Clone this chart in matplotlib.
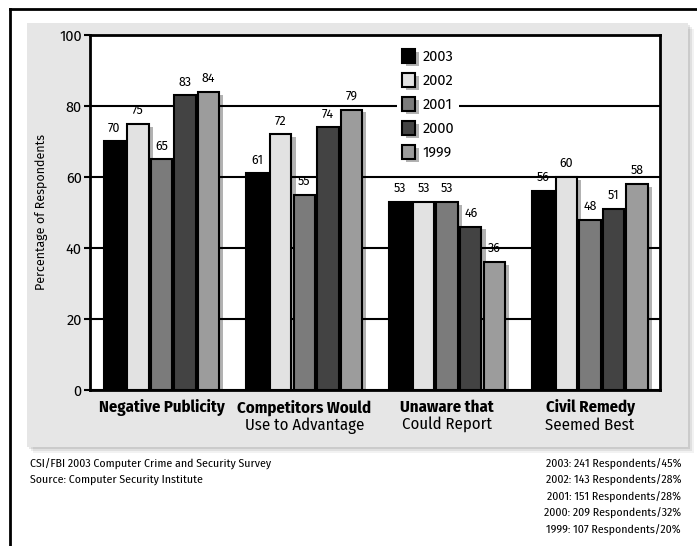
import numpy as np
import matplotlib
matplotlib.use("Agg")
import matplotlib.pyplot as plt
import matplotlib.patheffects as pe
from matplotlib.patches import Rectangle
from matplotlib.lines import Line2D

# data
categories_bold = ["Negative Publicity", "Competitors Would", "Unaware that", "Civil Remedy"]
categories_sub = ["", "Use to Advantage", "Could Report", "Seemed Best"]
years = ["2003", "2002", "2001", "2000", "1999"]
v2003 = [70, 61, 53, 56]
v2002 = [75, 72, 53, 60]
v2001 = [65, 55, 53, 48]
v2000 = [83, 74, 46, 51]
v1999 = [84, 79, 36, 58]
series = [v2003, v2002, v2001, v2000, v1999]
colors = ["#000000", "#e2e2e2", "#7b7b7b", "#434343", "#9c9c9c"]

footer_left = ["CSI/FBI 2003 Computer Crime and Security Survey",
               "Source: Computer Security Institute"]
footer_right = ["2003: 241 Respondents/45%",
                "2002: 143 Respondents/28%",
                "2001: 151 Respondents/28%",
                "2000: 209 Respondents/32%",
                "1999: 107 Respondents/20%"]

NARROW = ["Fira Sans Condensed", "PT Sans Narrow", "DejaVu Sans"]
REG = ["Fira Sans", "DejaVu Sans"]

W, H = 697, 546
fig = plt.figure(figsize=(W / 100, H / 100), dpi=100)
fig.patch.set_facecolor("white")

# outer frame lines (top and left)
fig.add_artist(Line2D([10 / W, 1.0], [1 - 9 / H, 1 - 9 / H], color="black", lw=2))
fig.add_artist(Line2D([10 / W, 10 / W], [0.0, 1 - 9 / H], color="black", lw=2))

# gray panel with soft shadow
px0, px1, py0, py1 = 27, 688, 23, 447
for k, a in [(6, 0.05), (4, 0.07), (2, 0.09)]:
    fig.add_artist(Rectangle(((px0 + k) / W, 1 - (py1 + k) / H), (px1 - px0) / W, (py1 - py0) / H,
                             transform=fig.transFigure, facecolor="black", alpha=a, edgecolor="none"))
fig.add_artist(Rectangle((px0 / W, 1 - py1 / H), (px1 - px0) / W, (py1 - py0) / H,
                         transform=fig.transFigure, facecolor="#e6e6e6", edgecolor="none"))

# axes
ax_l, ax_r, ax_t, ax_b = 90, 660, 35, 390
ax = fig.add_axes([ax_l / W, 1 - ax_b / H, (ax_r - ax_l) / W, (ax_b - ax_t) / H])
ax.set_facecolor("white")
ax.set_zorder(2)

x = np.arange(len(categories_bold))
pitch = 0.165
width = 0.15
shadow = [pe.SimplePatchShadow(offset=(3, -2), shadow_rgbFace="black", alpha=0.3), pe.Normal()]
for i, (vals, col, yr) in enumerate(zip(series, colors, years)):
    pos = x + (i - 2) * pitch
    bars = ax.bar(pos, vals, width=width, color=col, edgecolor="black", linewidth=1.5,
                  label=yr, zorder=3)
    for b in bars:
        b.set_path_effects(shadow)
    for p, v in zip(pos, vals):
        ax.text(p, v + 2, str(v), ha="center", va="bottom", fontsize=9, family=REG, zorder=4)

ax.set_xlim(-0.5, 3.49)
ax.set_ylim(0, 100)
ax.set_yticks([0, 20, 40, 60, 80, 100])
ax.tick_params(axis="y", direction="out", length=4, width=1.5, labelsize=10.5, pad=2)
for lab in ax.get_yticklabels():
    lab.set_family(REG)
ax.set_xticks([])
ax.yaxis.grid(True, color="black", linewidth=1.5)
ax.set_axisbelow(True)
for s in ax.spines.values():
    s.set_linewidth(2)

ax.set_ylabel("Percentage of Respondents", fontsize=9, labelpad=8, family=REG)

# category labels: bold first line, regular second line
for xi, t1, t2 in zip(x, categories_bold, categories_sub):
    ax.annotate(t1, xy=(xi, 0), xycoords=("data", "axes fraction"), xytext=(0, -12.5),
                textcoords="offset points", ha="center", va="center",
                fontsize=12, fontweight="bold", family=NARROW)
    if t2:
        ax.annotate(t2, xy=(xi, 0), xycoords=("data", "axes fraction"), xytext=(0, -25.5),
                    textcoords="offset points", ha="center", va="center",
                    fontsize=12, family=NARROW)

leg = ax.legend(loc="upper left", bbox_to_anchor=((397 - ax_l) / (ax_r - ax_l), (ax_b - 44) / (ax_b - ax_t)),
                prop={"family": REG, "size": 10.5}, handlelength=0.9, handleheight=1.1,
                handletextpad=0.5, labelspacing=0.62, borderpad=0.35, borderaxespad=0,
                frameon=True, fancybox=False)
leg.get_frame().set_facecolor("white")
leg.get_frame().set_edgecolor("none")
leg.get_frame().set_alpha(1)
for h in leg.legend_handles:
    h.set_path_effects(shadow)

# footer
for k, t in enumerate(footer_left):
    fig.text(30 / W, 1 - (463 + 16.5 * k) / H, t, ha="left", va="center", fontsize=8.5, family=NARROW)
for k, t in enumerate(footer_right):
    fig.text(681 / W, 1 - (463 + 16.5 * k) / H, t, ha="right", va="center", fontsize=8.5, family=NARROW)

fig.savefig("out.png", dpi=100)
